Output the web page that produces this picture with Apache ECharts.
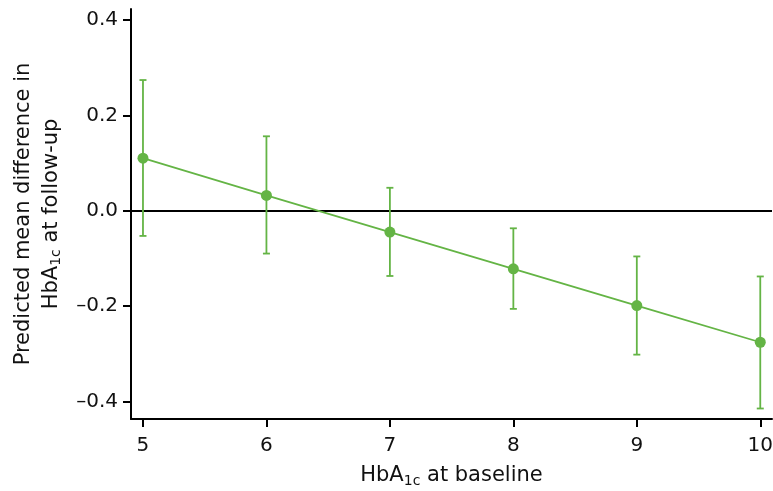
<!DOCTYPE html>
<html><head><meta charset="utf-8">
<script src="https://cdn.jsdelivr.net/npm/echarts@6/dist/echarts.min.js"></script>
<style>html,body{margin:0;padding:0;background:#fff}#c{width:773px;height:491px}</style>
</head><body><div id="c"></div>
<script>
var baseline = [5, 6, 7, 8, 9, 10];
var meanDiff = [0.110, 0.032, -0.045, -0.122, -0.199, -0.276];
var lowerCI = [-0.053, -0.090, -0.137, -0.206, -0.302, -0.415];
var upperCI = [0.274, 0.156, 0.048, -0.037, -0.096, -0.138];
var xTicks = [5, 6, 7, 8, 9, 10];
var yTicks = [-0.4, -0.2, 0.0, 0.2, 0.4];

var GREEN = '#64b445';
var FONT = 'DejaVu Sans';
var TXT = '#111';

var chart = echarts.init(document.getElementById('c'), null, {renderer: 'canvas'});
var linePts = baseline.map(function (x, i) { return [x, meanDiff[i]]; });
var errPts = baseline.map(function (x, i) { return [x, lowerCI[i], upperCI[i]]; });

chart.setOption({
  animation: false,
  grid: {left: 131, right: 1, top: 9, height: 410, containLabel: false, outerBoundsMode: 'none'},
  xAxis: {
    type: 'value', min: 4.903, max: 10.095,
    name: 'HbA{sub|1c} at baseline',
    nameLocation: 'middle', nameGap: 44,
    nameTextStyle: {fontFamily: FONT, fontSize: 21, color: TXT,
      rich: {sub: {fontFamily: FONT, fontSize: 14, color: TXT, padding: [11, 0, 0, 0]}}},
    axisLine: {show: true, onZero: false, lineStyle: {color: '#000', width: 2}},
    axisTick: {show: true, length: 8, lineStyle: {color: '#000', width: 2}, customValues: xTicks},
    axisLabel: {fontFamily: FONT, fontSize: 20, color: TXT, margin: 17, customValues: xTicks},
    splitLine: {show: false}
  },
  yAxis: {
    type: 'value', min: -0.437, max: 0.423,
    name: 'Predicted mean difference in\nHbA{sub|1c} at follow-up',
    nameLocation: 'middle', nameGap: 60, nameRotate: 90,
    nameTextStyle: {fontFamily: FONT, fontSize: 21, color: TXT, lineHeight: 28, align: 'center',
      rich: {sub: {fontFamily: FONT, fontSize: 14, color: TXT, padding: [11, 0, 0, 0], lineHeight: 28}}},
    axisLine: {show: true, onZero: false, lineStyle: {color: '#000', width: 2}},
    axisTick: {show: true, length: 8, lineStyle: {color: '#000', width: 2}, customValues: yTicks},
    axisLabel: {fontFamily: FONT, fontSize: 20, color: TXT, margin: 13, customValues: yTicks,
      formatter: function (v) { return (v < 0 ? '\u2013' : '') + Math.abs(v).toFixed(1); }},
    splitLine: {show: false}
  },
  series: [
    {
      type: 'custom',
      data: errPts,
      encode: {x: 0, y: [1, 2]},
      z: 3,
      renderItem: function (params, api) {
        var lo = api.coord([api.value(0), api.value(1)]);
        var hi = api.coord([api.value(0), api.value(2)]);
        var hw = 3.5;
        var st = {stroke: GREEN, lineWidth: 1.8};
        return {type: 'group', children: [
          {type: 'line', shape: {x1: lo[0], y1: lo[1], x2: hi[0], y2: hi[1]}, style: st},
          {type: 'line', shape: {x1: lo[0] - hw, y1: lo[1], x2: lo[0] + hw, y2: lo[1]}, style: st},
          {type: 'line', shape: {x1: hi[0] - hw, y1: hi[1], x2: hi[0] + hw, y2: hi[1]}, style: st}
        ]};
      }
    },
    {
      type: 'line',
      data: linePts,
      z: 4,
      symbol: 'circle', symbolSize: 11,
      lineStyle: {color: GREEN, width: 1.8},
      itemStyle: {color: GREEN},
      markLine: {
        silent: true, symbol: ['none', 'none'], label: {show: false},
        lineStyle: {color: '#000', width: 2, type: 'solid'},
        data: [{yAxis: 0}],
        z: 2
      }
    }
  ]
});
</script></body></html>
